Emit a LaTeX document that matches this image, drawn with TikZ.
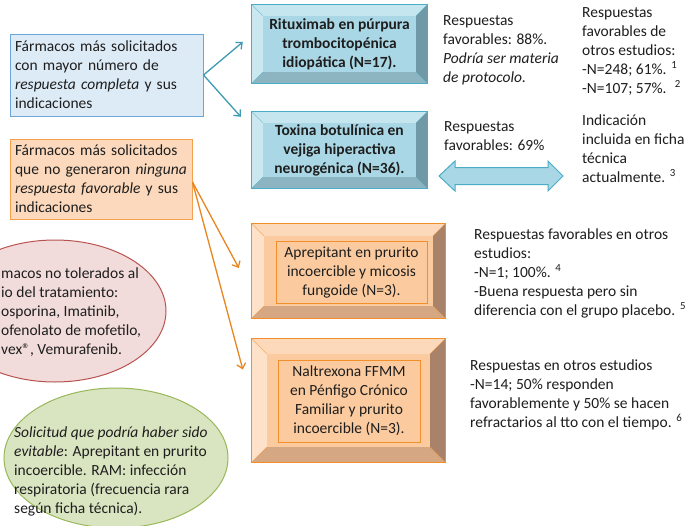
\documentclass[tikz,border=0pt]{standalone}
\usepackage{fontspec}
\setmainfont{Carlito}
\usetikzlibrary{arrows.meta,calc}
\definecolor{bface}{HTML}{A9D7E5}
\definecolor{btop}{HTML}{C6E6EF}
\definecolor{bleft}{HTML}{CBE8F1}
\definecolor{bright}{HTML}{6F99A6}
\definecolor{bbottom}{HTML}{8CB5C1}
\definecolor{bborder}{HTML}{4BACC6}
\definecolor{oface}{HTML}{FBCB9F}
\definecolor{otop}{HTML}{FCD9BB}
\definecolor{oleft}{HTML}{FDE1C9}
\definecolor{oright}{HTML}{A8836A}
\definecolor{obottom}{HTML}{D5A783}
\definecolor{oborder}{HTML}{F38F2A}
\definecolor{lbfill}{HTML}{DDEBF7}
\definecolor{lbborder}{HTML}{6CA6D9}
\definecolor{lofill}{HTML}{FCD9BC}
\definecolor{loborder}{HTML}{F5A04E}
\definecolor{redfill}{HTML}{F2DCDB}
\definecolor{redborder}{HTML}{B85450}
\definecolor{grnfill}{HTML}{D9E5C0}
\definecolor{grnborder}{HTML}{98B85A}
\definecolor{barrow}{HTML}{3E9BB3}
\definecolor{oarrow}{HTML}{E9861F}
\definecolor{txt}{HTML}{1E1E1E}
\newcommand\bevelbox[7]{%
  \fill[#3] (#1.north west) -- (#1.north east) -- ([xshift=-#2,yshift=-#2]#1.north east) -- ([xshift=#2,yshift=-#2]#1.north west) -- cycle;
  \fill[#4] (#1.north west) -- ([xshift=#2,yshift=-#2]#1.north west) -- ([xshift=#2,yshift=#2]#1.south west) -- (#1.south west) -- cycle;
  \fill[#5] (#1.north east) -- (#1.south east) -- ([xshift=-#2,yshift=#2]#1.south east) -- ([xshift=-#2,yshift=-#2]#1.north east) -- cycle;
  \fill[#6] (#1.south west) -- ([xshift=#2,yshift=#2]#1.south west) -- ([xshift=-#2,yshift=#2]#1.south east) -- (#1.south east) -- cycle;
  \draw[#7,line width=0.4pt,opacity=0.6] (#1.north west) -- ([xshift=#2,yshift=-#2]#1.north west) (#1.north east) -- ([xshift=-#2,yshift=-#2]#1.north east) (#1.south west) -- ([xshift=#2,yshift=#2]#1.south west) (#1.south east) -- ([xshift=-#2,yshift=#2]#1.south east);
  \draw[#7,line width=1.2pt] (#1.north west) rectangle (#1.south east);
}
\tikzset{
  every node/.style={text=txt},
  leftbox/.style={draw, line width=1pt, inner sep=5pt, align=left, anchor=center},
  bluebev/.style={fill=bface, inner sep=0pt, anchor=center, align=center, font=\fontsize{15.5}{19}\selectfont\bfseries},
  orangebev/.style={fill=oface, inner sep=0pt, anchor=center},
  oinner/.style={draw=oborder, line width=1pt, inner sep=0pt, anchor=center, align=center},
  plaintext/.style={anchor=north west, inner sep=0pt, align=left},
  barr/.style={draw=barrow, line width=1.3pt, -{Straight Barb[length=5pt,width=9pt]}},
  oarr/.style={draw=oarrow, line width=1.3pt, -{Straight Barb[length=5pt,width=9pt]}},
}
\newcommand\fst{\rule{0pt}{12pt}}
\begin{document}
\begin{tikzpicture}[x=1pt,y=-1pt,font=\fontsize{15.5}{19}\selectfont]
\useasboundingbox (0,0) rectangle (699,525);
\clip (0,0) rectangle (699,525);
\fill[white] (0,0) rectangle (699,525);

% ellipses
\draw[fill=redfill, draw=redborder, line width=1pt] (55,311) ellipse [x radius=111pt, y radius=71pt];
\draw[fill=grnfill, draw=grnborder, line width=1pt] (116,458) ellipse [x radius=112pt, y radius=70pt];
\node[plaintext] (redtxt) at (1,266) {\fst macos no tolerados al\\ io del tratamiento:\\ osporina, Imatinib,\\ ofenolato de mofetilo,\\ vex\textregistered, Vemurafenib.};
\node[plaintext] (grntxt) at (14,425) {\fst\textit{Solicitud que podría haber sido}\\ \textit{evitable}: Aprepitant en prurito\\ incoercible. RAM: infección\\ respiratoria (frecuencia rara\\ según ficha técnica).};

% left boxes
\node[leftbox, fill=lbfill, draw=lbborder, minimum width=193pt, minimum height=82pt, text width=183pt] (blue) at (106.5,75) {Fármacos más solicitados\\ con mayor número de\\ \textit{respuesta completa} y sus\\ indicaciones};
\node[leftbox, fill=lofill, draw=loborder, minimum width=182pt, minimum height=80pt, text width=172pt] (orange) at (101,179) {Fármacos más solicitados\\ que no generaron \textit{ninguna}\\ \textit{respuesta favorable} y sus\\ indicaciones};

% blue bevel boxes
\node[bluebev, minimum width=175pt, minimum height=78pt] (A) at (339.5,44) {Rituximab en púrpura\\ trombocitopénica\\ idiopática (N=17).};
\bevelbox{A}{11pt}{btop}{bleft}{bright}{bbottom}{bborder}
\node[bluebev, minimum width=175pt, minimum height=76pt] (B) at (339.5,150) {Toxina botulínica en\\ vejiga hiperactiva\\ neurogénica (N=36).};
\bevelbox{B}{11pt}{btop}{bleft}{bright}{bbottom}{bborder}

% orange bevel boxes
\node[orangebev, minimum width=193pt, minimum height=94pt] (Cout) at (348.5,271) {};
\bevelbox{Cout}{12pt}{otop}{oleft}{oright}{obottom}{oborder}
\node[oinner, minimum width=151pt, minimum height=62pt] (C) at (351.5,272) {Aprepitant en prurito\\ incoercible y micosis\\ fungoide (N=3).};
\node[orangebev, minimum width=193pt, minimum height=123pt] (Dout) at (348.5,400.5) {};
\bevelbox{Dout}{15pt}{otop}{oleft}{oright}{obottom}{oborder}
\node[oinner, minimum width=142pt, minimum height=82pt] (D) at (349,401) {Naltrexona FFMM\\ en Pénfigo Crónico\\ Familiar y prurito\\ incoercible (N=3).};

% arrows
\coordinate (tA) at ([xshift=-9pt,yshift=2pt]A.west);
\coordinate (tB) at ([xshift=-11pt,yshift=-5pt]B.north west);
\coordinate (oS) at ([yshift=-3pt]orange.east);
\coordinate (tC) at ([xshift=-13pt,yshift=3pt]Cout.west);
\coordinate (tD) at ([xshift=-9pt,yshift=31pt]Dout.west);
\draw[barr] (blue.east) -- (tA);
\draw[barr] (blue.east) -- (tB);
\draw[oarr] (oS) -- (tC);
\draw[oarr] (oS) -- (tD);

% double block arrow
\draw[fill=bface, draw=bborder, line width=1pt, line join=miter] (439,176) -- (455,161) -- (455,167.5) -- (548,167.5) -- (548,161) -- (563,176) -- (548,191) -- (548,184.5) -- (455,184.5) -- (455,191) -- cycle;

% right texts
\node[plaintext] (t1) at (443,13) {\fst Respuestas\\ favorables: 88\%.\\ \textit{Podría ser materia}\\ \textit{de protocolo.}};
\node[plaintext] (t2) at (582,5) {\fst Respuestas\\ favorables de\\ otros estudios:\\ -N=248; 61\%. \textsuperscript{1}\\ -N=107; 57\%.~ \textsuperscript{2}};
\node[plaintext] (t3) at (444,119) {\fst Respuestas\\ favorables: 69\%};
\node[plaintext] (t4) at (582,113) {\fst Indicación\\ incluida en ficha\\ técnica\\ actualmente. \textsuperscript{3}};
\node[plaintext] (t5) at (474,227) {\fst Respuestas favorables en otros\\ estudios:\\ -N=1; 100\%. \textsuperscript{4}\\ -Buena respuesta pero sin\\ diferencia con el grupo placebo. \textsuperscript{5}};
\node[plaintext] (t6) at (470,358) {\fst Respuestas en otros estudios\\ -N=14; 50\% responden\\ favorablemente y 50\% se hacen\\ refractarios al tto con el tiempo. \textsuperscript{6}};
\end{tikzpicture}
\end{document}
